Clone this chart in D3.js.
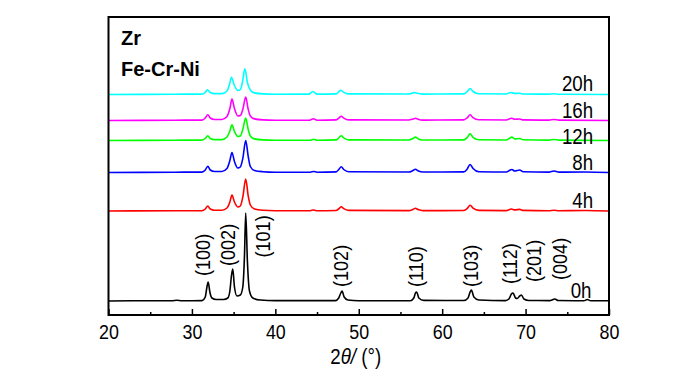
<!DOCTYPE html>
<html><head><meta charset="utf-8">
<script src="https://cdn.jsdelivr.net/npm/d3@7"></script>
<style>
html,body{margin:0;padding:0;background:#fff;}
svg{display:block;}
text{font-family:'Liberation Sans',Arial,sans-serif;}
</style></head>
<body>
<svg id="c" width="700" height="374"></svg>
<script>
// ---- data (2θ in degrees, intensity in arbitrary units above each pattern's baseline)
const seriesNames = ["0h","4h","8h","12h","16h","20h"];
const seriesColors = ["#000000","#ff0000","#0000ff","#00ff00","#ff00ff","#00ffff"];
const seriesOffsets = [14, 104, 142.5, 174.5, 194.5, 220.5];
const labelLevels = [17, 107, 145, 171, 197.5, 224.5];
const labelPositions = [77.9, 78.1, 78.1, 78.1, 78.1, 78.1];

const pattern0h = [[20,0],[24,0.3],[27.6,0.2],[28.2,0.8],[28.8,0.2],[31.2,0.4],[31.6,4],[31.8,14],[31.95,19],[32.15,9],[32.4,3],[32.9,1.5],[33.8,1.5],[34.3,3],[34.55,10],[34.75,26],[34.9,32],[35.1,14],[35.4,5],[35.8,6],[36.1,14],[36.3,45],[36.45,88],[36.65,40],[36.9,10],[37.3,3],[38.2,1],[40,0.4],[47.2,0.4],[47.6,3],[47.85,8],[48.0,10],[48.25,4],[48.7,1],[50,0.3],[56.2,0.3],[56.6,3],[56.8,8],[56.95,9],[57.2,3],[57.8,0.6],[62.6,0.5],[63.1,3],[63.35,9],[63.5,11],[63.8,4],[64.4,1],[67.6,0.4],[68.0,2],[68.3,7],[68.5,8],[68.8,3],[69.0,2.5],[69.3,5],[69.5,6],[69.8,2],[70.4,0.5],[72.9,0.4],[73.3,1.5],[73.5,2],[73.9,0.5],[77.0,0.3],[77.4,1.5],[77.8,0.3],[80,0.2]];
const pattern4h = [[20,0],[28,0.3],[31.2,0.3],[31.6,2],[31.9,5],[32.2,2],[32.7,0.8],[33.6,0.8],[34.2,3],[34.55,9],[34.8,16],[35.1,9],[35.5,4],[35.8,5],[36.1,14],[36.45,32],[36.75,15],[37.0,6],[37.5,2],[38.5,0.7],[40,0.3],[44.2,0.3],[44.55,1],[44.9,0.3],[47.3,0.5],[47.65,2.5],[47.9,4.3],[48.2,2.3],[48.8,0.6],[56.0,0.4],[56.5,1.6],[56.8,2.7],[57.1,1.5],[57.7,0.4],[62.6,0.5],[63.0,2.5],[63.35,5.8],[63.7,2.8],[64.4,0.6],[67.7,0.4],[68.1,1.6],[68.3,2.0],[68.7,1.1],[69.3,1.6],[69.7,0.6],[72.8,0.3],[73.4,0.8],[74,0.3],[77.2,0.5],[80,0]];
const pattern8h = [[20,0],[28,0.3],[31.2,0.4],[31.6,2.5],[31.9,6.3],[32.2,2.5],[32.7,1],[33.6,1],[34.2,4],[34.55,12],[34.8,20],[35.1,11],[35.5,4.5],[35.8,5.5],[36.1,14],[36.45,32],[36.75,16],[37.0,6],[37.5,2],[38.5,0.8],[40,0.3],[44.2,0.3],[44.6,1],[45.0,0.3],[47.3,0.6],[47.65,3.5],[47.9,5.7],[48.2,3],[48.8,0.7],[56.0,0.5],[56.5,2],[56.8,3.3],[57.1,1.8],[57.7,0.5],[62.6,0.6],[63.0,3.5],[63.35,8],[63.7,4],[64.4,0.8],[67.7,0.5],[68.1,2.2],[68.35,3],[68.7,1.5],[69.3,2.5],[69.7,0.8],[72.8,0.4],[73.4,1.5],[74,0.4],[77.2,0.5],[80,0]];
const pattern12h = [[20,0],[28,0.3],[31.2,0.4],[31.6,2],[31.9,4.7],[32.2,2],[32.7,0.9],[33.6,0.9],[34.2,3.5],[34.55,9.5],[34.8,15.7],[35.1,9],[35.5,4],[35.8,4.5],[36.1,11],[36.45,22.4],[36.75,11],[37.0,4.5],[37.5,1.6],[38.5,0.6],[40,0.3],[44.2,0.3],[44.6,1.2],[45.0,0.3],[47.3,0.6],[47.65,3],[47.9,4.7],[48.2,2.6],[48.8,0.6],[56.0,0.5],[56.5,2],[56.8,3.4],[57.1,1.8],[57.7,0.5],[62.6,0.6],[63.0,3],[63.35,6.7],[63.7,3.2],[64.4,0.7],[67.7,0.5],[68.1,2.4],[68.35,3.4],[68.7,1.6],[69.3,2],[69.7,0.7],[72.8,0.4],[73.4,1],[74,0.4],[80,0]];
const pattern16h = [[20,0],[28,0.3],[31.2,0.4],[31.6,2.5],[31.9,5.7],[32.2,2.5],[32.7,1],[33.6,1],[34.2,4],[34.55,12],[34.8,21.4],[35.1,12],[35.5,4.5],[35.8,5],[36.1,11],[36.45,23.4],[36.75,11],[37.0,4.5],[37.5,1.6],[38.5,0.6],[40,0.3],[44.1,0.3],[44.55,1.7],[45.0,0.3],[47.3,0.6],[47.65,2.7],[47.9,4.3],[48.2,2.4],[48.8,0.6],[56.0,0.5],[56.5,1.5],[56.8,2.3],[57.1,1.3],[57.7,0.4],[62.6,0.6],[63.0,2.7],[63.35,5.7],[63.7,2.8],[64.4,0.7],[67.7,0.5],[68.1,1.7],[68.35,2.3],[68.7,1.2],[69.3,1.5],[69.7,0.6],[72.8,0.4],[73.4,1],[74,0.4],[80,0]];
const pattern20h = [[20,0],[28,0.3],[31.2,0.4],[31.6,2],[31.85,4.7],[32.2,2],[32.7,0.9],[33.6,0.9],[34.2,3.5],[34.5,10],[34.75,17.3],[35.05,10],[35.5,4],[35.8,4.8],[36.05,12],[36.35,25.7],[36.65,12],[37.0,4.5],[37.5,1.6],[38.5,0.6],[40,0.3],[44.0,0.4],[44.5,3],[45.0,0.4],[47.3,0.6],[47.6,2.7],[47.85,4.3],[48.15,2.4],[48.8,0.6],[56.0,0.5],[56.4,1.4],[56.7,2],[57.0,1.2],[57.7,0.4],[62.6,0.6],[63.0,3],[63.35,6],[63.7,3],[64.4,0.7],[67.7,0.5],[68.0,1.6],[68.25,2],[68.7,1.1],[69.3,1.2],[69.7,0.5],[72.8,0.4],[73.4,0.7],[74,0.3],[80,0]];
const patterns = [pattern0h, pattern4h, pattern8h, pattern12h, pattern16h, pattern20h];

const hklLabels = ["(100)","(002)","(101)","(102)","(110)","(103)","(112)","(201)","(004)"];
const hklPositions = [31.27, 34.33, 38.5, 47.82, 56.86, 63.45, 68.13, 70.96, 74.12];
const hklLevels = [39, 49, 57.5, 28, 28, 28, 31, 33, 35];

const xTicksMajor = [20,30,40,50,60,70,80];
const xTicksMinor = [25,35,45,55,65,75];
const phaseLabels = ["Zr","Fe-Cr-Ni"];

// ---- drawing
const NARROW = 0.87;
const svg = d3.select("#c");
const L = 108.5, R = 609, T = 17, B = 315;
const x = d3.scaleLinear().domain([20,80]).range([L,R]);
const y = d3.scaleLinear().domain([0,298]).range([B,T]);

const line = d3.line().x(d => x(d[0])).curve(d3.curveMonotoneX);

patterns.forEach((p,i) => {
  svg.append("path")
    .datum(p)
    .attr("fill","none")
    .attr("stroke", seriesColors[i])
    .attr("stroke-width", 1.6)
    .attr("stroke-linejoin","round")
    .attr("d", line.y(d => y(d[1] + seriesOffsets[i])));
});

// frame
svg.append("rect").attr("x",L).attr("y",T).attr("width",R-L).attr("height",B-T)
  .attr("fill","none").attr("stroke","#000").attr("stroke-width",2);

// axes
const gx = svg.append("g").attr("transform",`translate(0,${B})`)
  .call(d3.axisBottom(x).tickValues(xTicksMajor).tickSize(-6).tickPadding(9.5).tickFormat(d3.format("d")));
gx.select(".domain").remove();
gx.selectAll("line").attr("stroke","#000").attr("stroke-width",1.5);
gx.selectAll("text").attr("font-size",20.5).attr("fill","#000")
  .style("font-family","'Liberation Sans',Arial,sans-serif")
  .attr("transform",`scale(${NARROW},1)`);

const gm = svg.append("g").attr("transform",`translate(0,${B})`)
  .call(d3.axisBottom(x).tickValues(xTicksMinor).tickSize(-3).tickFormat(""));
gm.select(".domain").remove();
gm.selectAll("line").attr("stroke","#000").attr("stroke-width",1.5);

// axis title
const t = svg.append("text").attr("transform",`translate(${(L+R)/2 - 3},364) scale(${NARROW},1)`)
  .attr("text-anchor","middle").attr("font-size",21.5).attr("fill","#000");
t.append("tspan").text("2");
t.append("tspan").attr("font-style","italic").text("θ");
t.append("tspan").attr("font-style","italic").text("/");
t.append("tspan").text(" (°)");

// series labels
seriesNames.forEach((n,i) => {
  svg.append("text")
    .attr("transform",`translate(${x(labelPositions[i])},${y(labelLevels[i])}) scale(${NARROW},1)`)
    .attr("text-anchor","end").attr("font-size",21.5).attr("fill","#000").text(n);
});

// hkl labels
hklLabels.forEach((h,i) => {
  svg.append("text")
    .attr("transform",`translate(${x(hklPositions[i])},${y(hklLevels[i])}) rotate(-90) scale(0.86,1)`)
    .attr("dy","0.35em").attr("font-size",21).attr("fill","#000").text(h);
});

// phase labels
phaseLabels.forEach((p,i) => {
  svg.append("text").attr("x",121).attr("y", i===0 ? 45 : 76)
    .attr("font-weight","bold")
    .attr("font-size",20).attr("fill","#000").text(p);
});
</script>
</body></html>
